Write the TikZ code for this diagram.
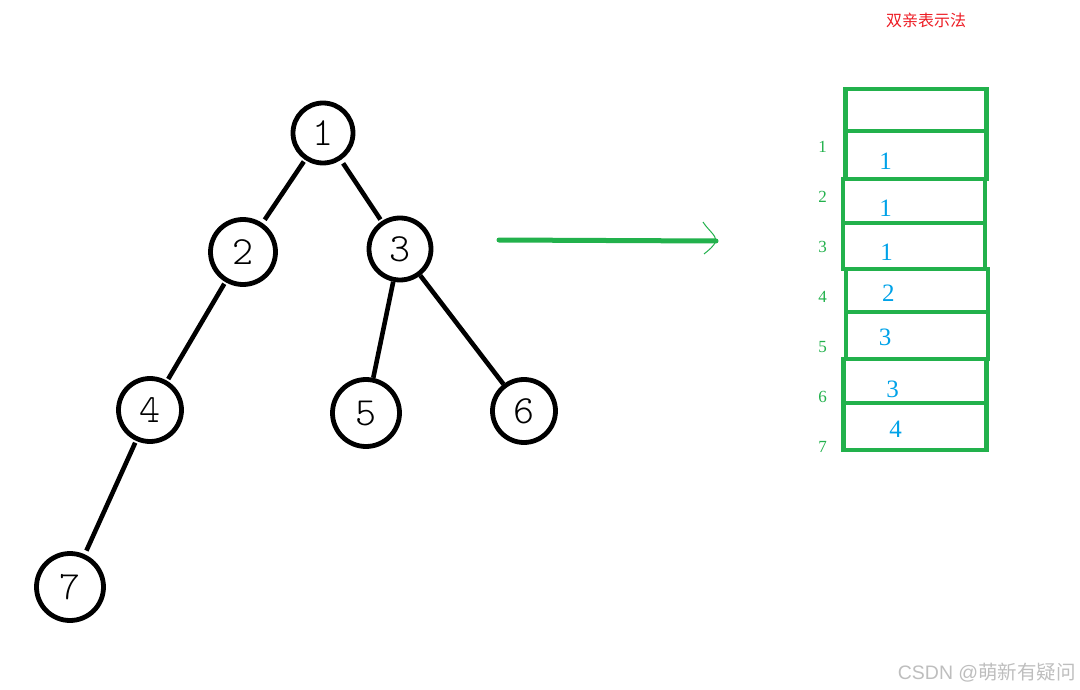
\documentclass[tikz,border=0pt]{standalone}
\usepackage{fontspec}
\setmainfont{Liberation Serif}
\newfontfamily\cjk{Noto Sans CJK SC}
\newfontfamily\wmfont{Liberation Sans}
\newfontfamily\wmcjk{Noto Sans CJK SC}
\newfontfamily\handfont{Latin Modern Mono Light}
\definecolor{pgreen}{RGB}{34,177,76}
\definecolor{pblue}{RGB}{0,162,232}
\definecolor{pred}{RGB}{237,28,36}
\definecolor{wmgray}{RGB}{190,190,190}
\begin{document}
\begin{tikzpicture}[x=1pt,y=-1pt,
  tnode/.style={circle, draw=black, line width=4.8pt, inner sep=0pt,
    font=\handfont\fontsize{40}{40}\selectfont},
  edge/.style={draw=black, line width=4.6pt},
  cell/.style={rectangle, draw=pgreen, line width=4.5pt, inner sep=0pt, minimum width=141pt},
  idx/.style={text=pgreen, font=\fontsize{17}{17}\selectfont, inner sep=0pt},
  val/.style={text=pblue, font=\fontsize{25}{25}\selectfont, inner sep=0pt},
  arrowline/.style={draw=pgreen, line width=5pt, line cap=round},
  arrowtip/.style={draw=pgreen, line width=1pt}
]
\useasboundingbox (0,0) rectangle (1080,690);

% tree
\node[tnode, minimum size=60pt] (n1) at (323,133) {1};
\node[tnode, minimum size=65pt] (n2) at (243,252) {2};
\node[tnode, minimum size=62pt] (n3) at (400,249) {3};
\node[tnode, minimum size=63pt] (n4) at (150,410) {4};
\node[tnode, minimum size=67pt] (n5) at (366,413) {5};
\node[tnode, minimum size=63pt] (n6) at (524,411) {6};
\node[tnode, minimum size=67pt] (n7) at (70,587) {7};

\draw[edge, shorten <=2pt, shorten >=4pt] (n1) -- (n2);
\draw[edge, shorten <=4pt, shorten >=2pt] (n1) -- (n3);
\draw[edge, shorten <=2pt, shorten >=2pt] (n2) -- (n4);
\draw[edge] (n3) -- (n5);
\draw[edge] (n3) -- (n6);
\draw[edge, shorten <=2pt, shorten >=4pt] (n4) -- (n7);

% arrow
\coordinate (aS) at (499,240);
\coordinate (aM) at (606,240.5);
\coordinate (aE) at (716,241);
\draw[arrowline] (aS) -- (aM) -- (aE);
\draw[arrowtip] (703,222) .. controls (708,230) and (716,235) .. (aE)
  .. controls (714,246) and (709,250) .. (704,254);

% title
\node[text=pred, font=\cjk\fontsize{16}{16}\selectfont] (title) at (926,20) {双亲表示法};

% table
\node[cell, minimum height=42pt] (r0) at (916,110) {};
\node[cell, minimum height=48pt] (r1) at (916,155) {};
\node[cell, minimum height=44pt, minimum width=142pt] (r2) at (914,201) {};
\node[cell, minimum height=46pt, minimum width=142pt] (r3) at (914,246) {};
\node[cell, minimum height=43pt, minimum width=142pt] (r4) at (917,290.5) {};
\node[cell, minimum height=47pt, minimum width=142pt] (r5) at (917,335.5) {};
\node[cell, minimum height=44pt, minimum width=143pt] (r6) at (915,381) {};
\node[cell, minimum height=47pt, minimum width=143pt] (r7) at (915,426.5) {};

\node[val] (v1) at (885.7,161) {1};
\node[val] (v2) at (885.7,208) {1};
\node[val] (v3) at (886.7,252) {1};
\node[val] (v4) at (888.3,293) {2};
\node[val] (v5) at (885,337) {3};
\node[val] (v6) at (892.7,389) {3};
\node[val] (v7) at (895.7,429) {4};

\node[idx] (i1) at (822.5,147) {1};
\node[idx] (i2) at (822.5,197) {2};
\node[idx] (i3) at (822.5,247) {3};
\node[idx] (i4) at (822.5,297) {4};
\node[idx] (i5) at (822.5,347) {5};
\node[idx] (i6) at (822.5,397) {6};
\node[idx] (i7) at (822.5,447) {7};

% watermark
\node[text=wmgray, anchor=east, inner sep=0pt] (wm) at (1076,673)
  {\wmfont\fontsize{19.5}{19.5}\selectfont CSDN @\wmcjk 萌新有疑问};
\end{tikzpicture}
\end{document}
